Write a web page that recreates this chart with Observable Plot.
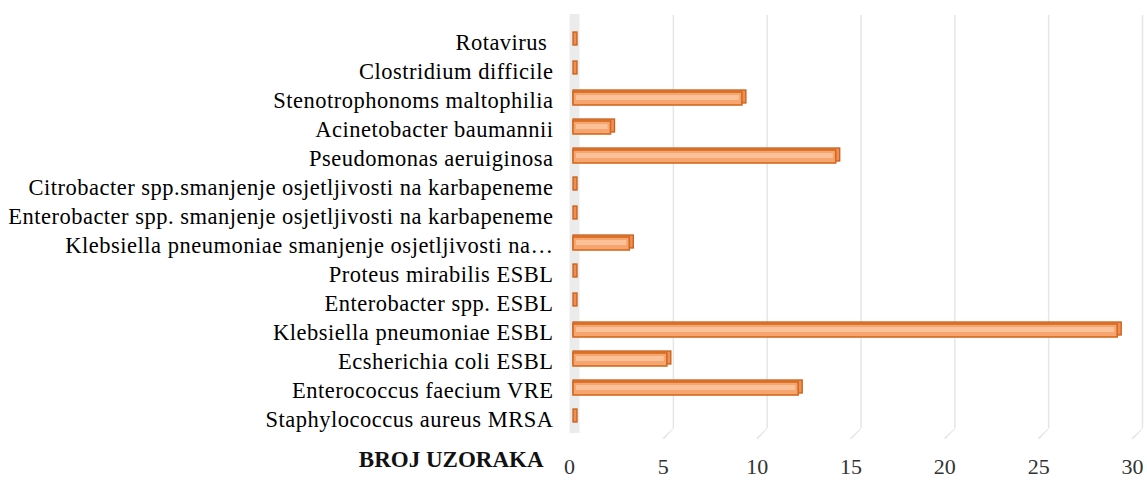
<!DOCTYPE html>
<html>
<head>
<meta charset="utf-8">
<script src="https://cdn.jsdelivr.net/npm/d3@7"></script>
<script src="https://cdn.jsdelivr.net/npm/@observablehq/plot@0.6"></script>
<style>
  body { margin: 0; background: #fff; }
</style>
</head>
<body>
<div id="chart"></div>
<script>
// Categories listed top to bottom as in the chart
const categories = [
  "Rotavirus\u00A0",
  "Clostridium difficile",
  "Stenotrophonoms maltophilia",
  "Acinetobacter baumannii",
  "Pseudomonas aeruiginosa",
  "Citrobacter spp.smanjenje osjetljivosti na karbapeneme",
  "Enterobacter spp. smanjenje osjetljivosti na karbapeneme",
  "Klebsiella pneumoniae smanjenje osjetljivosti na…",
  "Proteus mirabilis ESBL",
  "Enterobacter spp. ESBL",
  "Klebsiella pneumoniae ESBL",
  "Ecsherichia coli ESBL",
  "Enterococcus faecium VRE",
  "Staphylococcus aureus MRSA"
];
const values = [0, 0, 9, 2, 14, 0, 0, 3, 0, 0, 29, 5, 12, 0];
const xTicks = [0, 5, 10, 15, 20, 25, 30];
const gridTicks = [5, 10, 15, 20, 25, 30];
const axisTitle = ["BROJ UZORAKA"];

const data = categories.map((c, i) => ({name: c, value: values[i]}));

const chart = Plot.plot({
  width: 1147,
  height: 480,
  marginLeft: 569,
  marginRight: 15,
  marginTop: 22,
  marginBottom: 40,
  style: {fontFamily: "'Liberation Serif', 'Times New Roman', serif", fontSize: "22px", background: "#fff", overflow: "visible"},
  x: {domain: [0, 30], ticks: xTicks},
  y: {domain: categories, padding: 0, label: null},
  marks: [
    // back wall
    Plot.ruleX([0], {dx: 5, strokeWidth: 10, stroke: "#ebebeb", insetTop: -8, insetBottom: 7}),
    // gridlines on back plane
    Plot.ruleX(gridTicks, {dx: 10, stroke: "#e6e6e6", strokeWidth: 1.5, insetTop: -7, insetBottom: 12}),
    // slanted floor segments
    Plot.vector(gridTicks, {x: d => d, frameAnchor: "bottom", dy: -2, rotate: 45, length: 14, shape: "spike", r: 0.7, stroke: "#e6e6e6", fill: "#e6e6e6", strokeWidth: 0.8, anchor: "start"}),
    // bar depth (top and side faces)
    Plot.barX(data, {y: "name", x: "value", dx: 4, dy: -4, insetTop: 8, insetBottom: 8, insetRight: -4, fill: "#EE9055", stroke: "#C95F18", strokeWidth: 1.3}),
    // bar front faces
    Plot.barX(data, {y: "name", x: "value", dx: 4, dy: -2, insetTop: 8, insetBottom: 8, fill: "#F7A56E", stroke: "#D4691F", strokeWidth: 1.6}),
    // highlight on front faces
    Plot.barX(data, {y: "name", x: "value", dx: 4, dy: -2, insetTop: 11, insetBottom: 13, insetLeft: 3, insetRight: 3, fill: "#FBC29A"}),
    Plot.axisY({tickSize: 0, tickPadding: 16, fontSize: 22.5, color: "#000", label: null}),
    Plot.axisX({ticks: xTicks, tickSize: 0, tickPadding: 18, label: null, fontSize: 22, color: "#333"}),
    Plot.text(axisTitle, {frameAnchor: "bottom-left", textAnchor: "end", dx: -26, dy: 26, fontWeight: "bold", fontSize: 23, fill: "#111"})
  ]
});
// widen category labels slightly to match the reference's letter spacing
d3.select(chart).selectAll("g[aria-label='y-axis tick label'] text").style("letter-spacing", "0.5px");
document.getElementById("chart").appendChild(chart);
</script>
</body>
</html>
